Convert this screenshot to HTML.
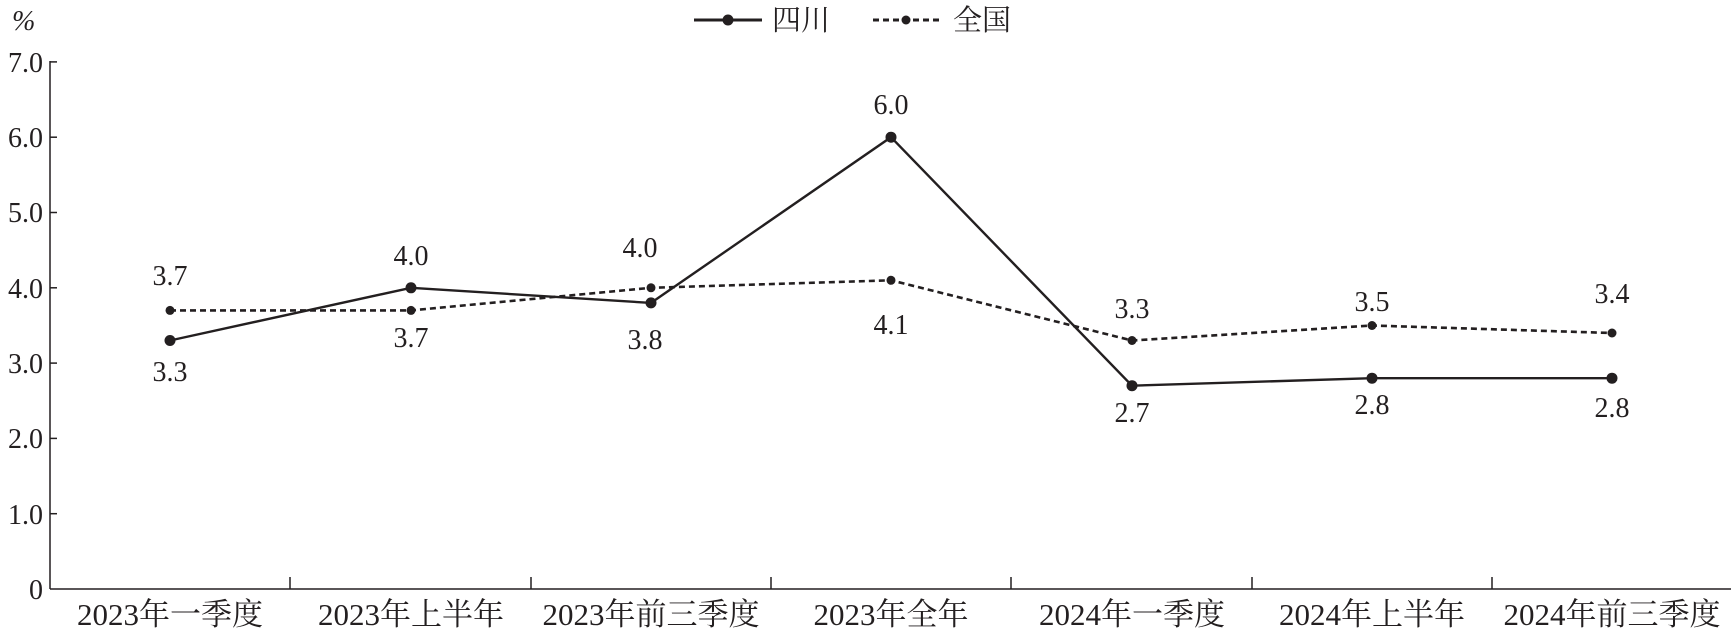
<!DOCTYPE html>
<html><head><meta charset="utf-8"><style>
html,body{margin:0;padding:0;background:#fff}
text{font-family:"Liberation Serif","Noto Serif CJK SC",serif;fill:#231f20}
</style></head><body>
<svg width="1733" height="631" viewBox="0 0 1733 631" xmlns="http://www.w3.org/2000/svg">
<g stroke="#231f20" stroke-width="1.5" fill="none">
<line x1="50" y1="61" x2="50" y2="589"/>
<line x1="50" y1="589" x2="1731" y2="589"/>
<line x1="50" y1="61.9" x2="57" y2="61.9"/>
<line x1="50" y1="137.2" x2="57" y2="137.2"/>
<line x1="50" y1="212.5" x2="57" y2="212.5"/>
<line x1="50" y1="287.8" x2="57" y2="287.8"/>
<line x1="50" y1="363.1" x2="57" y2="363.1"/>
<line x1="50" y1="438.4" x2="57" y2="438.4"/>
<line x1="50" y1="513.7" x2="57" y2="513.7"/>
<line x1="290" y1="589" x2="290" y2="577"/>
<line x1="531" y1="589" x2="531" y2="577"/>
<line x1="771" y1="589" x2="771" y2="577"/>
<line x1="1011" y1="589" x2="1011" y2="577"/>
<line x1="1252" y1="589" x2="1252" y2="577"/>
<line x1="1492" y1="589" x2="1492" y2="577"/>
</g>
<g font-size="28" text-anchor="end">
<text x="43" y="72">7.0</text><text x="43" y="147">6.0</text><text x="43" y="222">5.0</text>
<text x="43" y="298">4.0</text><text x="43" y="373">3.0</text><text x="43" y="448">2.0</text>
<text x="43" y="524">1.0</text><text x="43" y="599">0</text>
</g>
<text x="12" y="30" font-size="28" font-style="italic">%</text>
<g font-size="31" text-anchor="middle">
<text x="170" y="625">2023年一季度</text><text x="411" y="625">2023年上半年</text>
<text x="651" y="625">2023年前三季度</text><text x="891" y="625">2023年全年</text>
<text x="1132" y="625">2024年一季度</text><text x="1372" y="625">2024年上半年</text>
<text x="1612" y="625">2024年前三季度</text>
</g>
<line x1="694" y1="20" x2="762" y2="20" stroke="#231f20" stroke-width="3"/>
<circle cx="728" cy="20" r="5.5" fill="#231f20"/>
<text x="772" y="30" font-size="29">四川</text>
<line x1="873" y1="20" x2="940" y2="20" stroke="#231f20" stroke-width="3" stroke-dasharray="6,4"/>
<circle cx="906" cy="20" r="4.5" fill="#231f20"/>
<text x="953" y="30" font-size="29">全国</text>
<polyline fill="none" stroke="#231f20" stroke-width="2.6" stroke-dasharray="6,4"
points="170,310.4 411,310.4 651,287.8 891,280.3 1132,340.5 1372,325.5 1612,333"/>
<g fill="#231f20">
<circle cx="170" cy="310.4" r="4.5"/><circle cx="411" cy="310.4" r="4.5"/><circle cx="651" cy="287.8" r="4.5"/>
<circle cx="891" cy="280.3" r="4.5"/><circle cx="1132" cy="340.5" r="4.5"/><circle cx="1372" cy="325.5" r="4.5"/><circle cx="1612" cy="333" r="4.5"/>
</g>
<polyline fill="none" stroke="#231f20" stroke-width="2.4"
points="170,340.5 411,287.8 651,302.9 891,137.2 1132,385.7 1372,378.2 1612,378.2"/>
<g fill="#231f20">
<circle cx="170" cy="340.5" r="5.5"/><circle cx="411" cy="287.8" r="5.5"/><circle cx="651" cy="302.9" r="5.5"/>
<circle cx="891" cy="137.2" r="5.5"/><circle cx="1132" cy="385.7" r="5.5"/><circle cx="1372" cy="378.2" r="5.5"/><circle cx="1612" cy="378.2" r="5.5"/>
</g>
<g font-size="28" text-anchor="middle">
<text x="170" y="285">3.7</text>
<text x="170" y="381">3.3</text>
<text x="411" y="265">4.0</text>
<text x="411" y="347">3.7</text>
<text x="640" y="257">4.0</text>
<text x="645" y="349">3.8</text>
<text x="891" y="114">6.0</text>
<text x="891" y="334">4.1</text>
<text x="1132" y="318">3.3</text>
<text x="1132" y="422">2.7</text>
<text x="1372" y="311">3.5</text>
<text x="1372" y="414">2.8</text>
<text x="1612" y="303">3.4</text>
<text x="1612" y="417">2.8</text>
</g>
</svg>
</body></html>
